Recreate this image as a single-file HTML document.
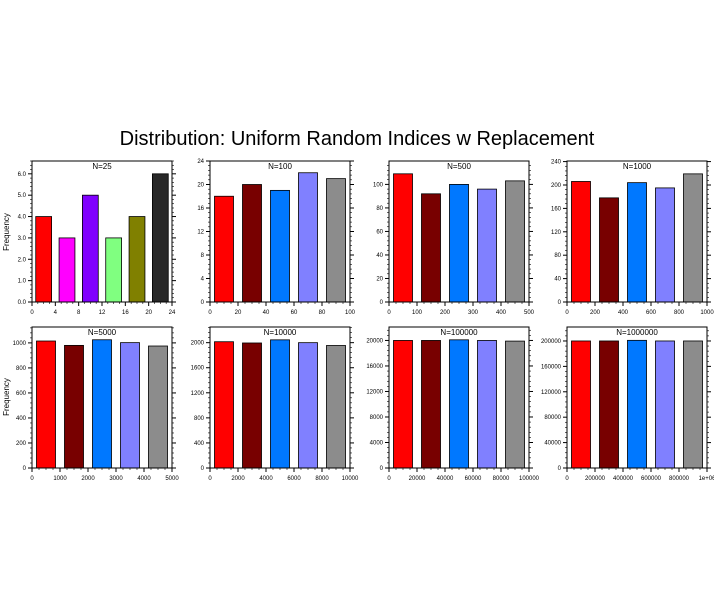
<!DOCTYPE html>
<html><head><meta charset="utf-8"><style>
html,body{margin:0;padding:0;background:#fff;}
svg{display:block;font-family:"Liberation Sans",sans-serif;}
</style></head><body>
<svg id="s" width="714" height="612" xmlns="http://www.w3.org/2000/svg">
<text x="357" y="145" font-size="20" text-anchor="middle">Distribution: Uniform Random Indices w Replacement</text>
<text transform="translate(9,232) rotate(-90)" font-size="8" text-anchor="middle">Frequency</text>
<text transform="translate(9,397) rotate(-90)" font-size="8" text-anchor="middle">Frequency</text>
</svg>
<script>
var S=document.getElementById('s'),NS='http://www.w3.org/2000/svg';
function el(t,a,txt){var e=document.createElementNS(NS,t);for(var k in a)e.setAttribute(k,a[k]);if(txt!=null)e.textContent=txt;S.appendChild(e);return e;}
var C5=['#ff0000','#780000','#0078ff','#8080ff','#8c8c8c'];
var P=[
{x:32,y:161,t:'N=25',xm:24,xs:4,ym:6.6,ys:1,dec:1,v:[4,3,5,3,4,6],c:['#ff0000','#ff00ff','#8000ff','#80ff80','#808000','#282828']},
{x:210,y:161,t:'N=100',xm:100,xs:20,ym:24,ys:4,v:[18,20,19,22,21]},
{x:389,y:161,t:'N=500',xm:500,xs:100,ym:119.9,ys:20,v:[109,92,100,96,103]},
{x:567,y:161,t:'N=1000',xm:1000,xs:200,ym:241,ys:40,v:[206,178,204,195,219]},
{x:32,y:327,t:'N=5000',xm:5000,xs:1000,ym:1127,ys:200,v:[1015,980,1025,1002,975]},
{x:210,y:327,t:'N=10000',xm:10000,xs:2000,ym:2250,ys:400,v:[2015,1995,2045,2000,1955]},
{x:389,y:327,t:'N=100000',xm:100000,xs:20000,ym:22110,ys:4000,v:[20000,20000,20100,20000,19900]},
{x:567,y:327,t:'N=1000000',xm:1000000,xs:200000,ym:222000,ys:40000,v:[200000,200000,201000,200000,200000],last:'1e+06'}
];
var W=140,H=141;
P.forEach(function(p){
 var n=p.v.length,bw=p.xm/n,cols=p.c||C5;
 function X(v){return p.x+v/p.xm*W;} function Y(v){return p.y+H-v/p.ym*H;}
 p.v.forEach(function(v,i){var c=(i+0.5)*bw,w=bw*0.68;
  el('rect',{x:X(c-w/2),y:Y(v),width:w/p.xm*W,height:v/p.ym*H,fill:cols[i],stroke:'#000','stroke-width':0.8});});
 el('rect',{x:p.x,y:p.y,width:W,height:H,fill:'none',stroke:'#000','stroke-width':1});
 el('text',{x:p.x+W/2,y:p.y+8,'font-size':8,'text-anchor':'middle'},p.t);
 for(var k=0;k*p.ys<=p.ym+1e-9;k++){var v=k*p.ys,y=Y(v);
  el('line',{x1:p.x-4,x2:p.x,y1:y,y2:y,stroke:'#000','stroke-width':1});
  el('line',{x1:p.x+W,x2:p.x+W+4,y1:y,y2:y,stroke:'#000','stroke-width':1});
  el('text',{x:p.x-6,y:y+2,'font-size':6,'text-anchor':'end'},p.dec?v.toFixed(1):String(v));
  for(var m=1;m<5;m++){var vv=v+m*p.ys/5;if(vv>p.ym)break;var yy=Y(vv);
   el('line',{x1:p.x-2,x2:p.x,y1:yy,y2:yy,stroke:'#000','stroke-width':0.6});
   el('line',{x1:p.x+W,x2:p.x+W+2,y1:yy,y2:yy,stroke:'#000','stroke-width':0.6});}
 }
 for(var k=0;k*p.xs<=p.xm+1e-9;k++){var v=k*p.xs,x=X(v);
  el('line',{x1:x,x2:x,y1:p.y+H,y2:p.y+H+4,stroke:'#000','stroke-width':1});
  var lab=(v==p.xm&&p.last)?p.last:String(v);
  el('text',{x:x,y:p.y+H+12,'font-size':6,'text-anchor':'middle'},lab);
  if(v<p.xm)for(var m=1;m<4;m++){var xx=X(v+m*p.xs/4);el('line',{x1:xx,x2:xx,y1:p.y+H,y2:p.y+H+2,stroke:'#000','stroke-width':0.6});}
 }
});
</script>
</body></html>
